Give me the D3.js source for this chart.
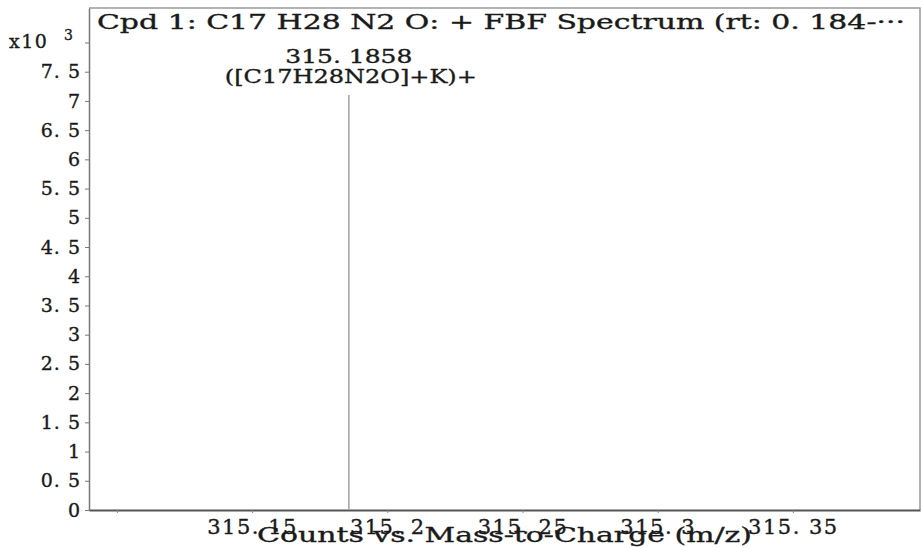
<!DOCTYPE html>
<html>
<head>
<meta charset="utf-8">
<script src="https://cdn.jsdelivr.net/npm/d3@7"></script>
<style>
  html, body { margin: 0; padding: 0; background: #fff; }
  svg { display: block; }
  svg text { stroke: #1a1a1a; stroke-width: 0.35px; }
</style>
</head>
<body>
<div id="chart"></div>
<script>
// Mass spectrum: one peak, counts in units of 10^3

const chartTitle = 'Cpd  1:  C17  H28  N2  O:  +  FBF  Spectrum  (rt:  0. 184-\u00b7\u00b7\u00b7';
const xAxisTitle = 'Counts vs. Mass-to-Charge (m/z)';

const peakMz = [315.1858];
const peakCounts = [7.10];            // x10^3
const peakMassLabels = ['315. 1858'];
const peakIonLabels = ['([C17H28N2O]+K)+'];

const yTicks = [0, 0.5, 1, 1.5, 2, 2.5, 3, 3.5, 4, 4.5, 5, 5.5, 6, 6.5, 7, 7.5];
const yMultiplierTick = 8;
const xTicks = [315.1, 315.15, 315.2, 315.25, 315.3, 315.35];
const xTickLabels = ['', '315. 15', '315. 2', '315. 25', '315. 3', '315. 35'];

(function() {
  const width = 922;
  const height = 548;
  const left = 89, right = 920, top = 8, bottom = 510;
  const serif = '"DejaVu Serif", "Liberation Serif", serif';
  const ink = '#1a1a1a';

  const svg = d3.select('#chart').append('svg')
    .attr('width', width)
    .attr('height', height);

  const x = d3.scaleLinear().domain([315.0897, 315.397]).range([left, right]);
  const y = d3.scaleLinear().domain([0, 8.59]).range([bottom, top]);

  // frame (top + right), lighter than the axes
  svg.append('path')
    .attr('d', `M${left},${top}H${right}V${bottom}`)
    .attr('fill', 'none')
    .attr('stroke', '#9a9a9a')
    .attr('stroke-width', 1.5);

  // y axis
  const yAxis = svg.append('g')
    .attr('transform', `translate(${left},0)`)
    .call(d3.axisLeft(y)
      .tickValues(yTicks.concat([yMultiplierTick]))
      .tickSize(4)
      .tickPadding(4)
      .tickSizeOuter(0)
      .tickFormat(d => d === yMultiplierTick ? '' : String(d).replace('.', '. ')));
  yAxis.select('.domain').attr('stroke', '#777').attr('stroke-width', 1.5);
  yAxis.selectAll('.tick line').attr('stroke', '#777');
  yAxis.selectAll('.tick text')
    .style('font-family', serif)
    .style('font-size', '19px')
    .style('letter-spacing', '1px')
    .attr('fill', ink);

  // multiplier label "x10 3" at the top tick
  const mult = svg.append('text')
    .attr('x', 9)
    .attr('y', y(yMultiplierTick) + 6)
    .style('font-family', serif)
    .style('font-size', '19px')
    .style('letter-spacing', '1.5px')
    .attr('fill', ink);
  mult.append('tspan').text('x10');
  mult.append('tspan')
    .attr('x', 64)
    .attr('dy', -8)
    .style('font-size', '14px')
    .text('3');

  // x axis
  const xAxis = svg.append('g')
    .attr('transform', `translate(0,${bottom})`)
    .call(d3.axisBottom(x)
      .tickValues(xTicks)
      .tickSize(3)
      .tickPadding(6)
      .tickSizeOuter(0)
      .tickFormat((d, i) => xTickLabels[i]));
  xAxis.select('.domain').attr('stroke', '#555').attr('stroke-width', 2);
  xAxis.selectAll('.tick line').attr('stroke', '#888');
  xAxis.selectAll('.tick text')
    .style('font-family', serif)
    .style('font-size', '21px')
    .style('letter-spacing', '1.5px')
    .attr('fill', ink);

  // x axis title (overlaps the tick labels, as in the original)
  svg.append('text')
    .attr('x', (left + right) / 2)
    .attr('y', 542)
    .attr('text-anchor', 'middle')
    .attr('textLength', 495)
    .attr('lengthAdjust', 'spacingAndGlyphs')
    .style('font-family', serif)
    .style('font-size', '20px')
    .attr('fill', ink)
    .text(xAxisTitle);

  // chart title inside the frame
  svg.append('text')
    .attr('x', 97)
    .attr('y', 29)
    .attr('textLength', 808)
    .attr('lengthAdjust', 'spacingAndGlyphs')
    .style('font-family', serif)
    .style('font-size', '20px')
    .attr('fill', ink)
    .text(chartTitle);

  // peaks
  const peaks = peakMz.map((mz, i) => ({
    mz, counts: peakCounts[i], mass: peakMassLabels[i], ion: peakIonLabels[i]
  }));

  svg.append('g')
    .selectAll('line')
    .data(peaks)
    .enter().append('line')
    .attr('x1', d => x(d.mz))
    .attr('x2', d => x(d.mz))
    .attr('y1', y(0))
    .attr('y2', d => y(d.counts))
    .attr('stroke', '#a0a0a0')
    .attr('stroke-width', 1.5);

  const ann = svg.append('g')
    .selectAll('g')
    .data(peaks)
    .enter().append('g');

  ann.append('text')
    .attr('x', d => x(d.mz))
    .attr('y', d => y(d.counts) - 32)
    .attr('text-anchor', 'middle')
    .attr('textLength', 127)
    .attr('lengthAdjust', 'spacingAndGlyphs')
    .style('font-family', serif)
    .style('font-size', '19px')
    .attr('fill', ink)
    .text(d => d.mass);

  ann.append('text')
    .attr('x', d => x(d.mz) + 2)
    .attr('y', d => y(d.counts) - 12)
    .attr('text-anchor', 'middle')
    .attr('textLength', 252)
    .attr('lengthAdjust', 'spacingAndGlyphs')
    .style('font-family', serif)
    .style('font-size', '19px')
    .attr('fill', ink)
    .text(d => d.ion);
})();
</script>
</body>
</html>
